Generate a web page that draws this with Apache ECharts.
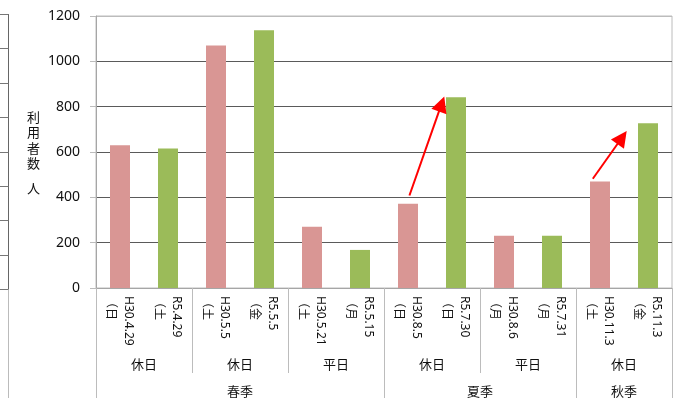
<!DOCTYPE html>
<html>
<head>
<meta charset="utf-8">
<script src="https://cdn.jsdelivr.net/npm/echarts@6/dist/echarts.min.js"></script>
<style>
  html, body { margin: 0; padding: 0; background: #fff; }
  #chart { width: 675px; height: 398px; }
</style>
</head>
<body>
<div id="chart"></div>
<script>
// Survey dates (H30 = 2018, R5 = 2023) and the weekday shown under each
const dates = ['H30.4.29', 'R5.4.29', 'H30.5.5', 'R5.5.5', 'H30.5.21', 'R5.5.15',
               'H30.8.5', 'R5.7.30', 'H30.8.6', 'R5.7.31', 'H30.11.3', 'R5.11.3'];
const weekdays = ['（日', '（土', '（土', '（金', '（土', '（月',
                  '（日', '（日', '（月', '（月', '（土', '（金'];

// Users per survey day: H30 counts and R5 counts, one per day-type group
const h30Users = [630, 1070, 270, 372, 230, 470];
const r5Users  = [615, 1137, 168, 842, 230, 727];

// Day-type groups (two dates each) and seasons (with how many dates they span)
const dayTypes = ['休日', '休日', '平日', '休日', '平日', '休日'];
const seasons = ['春季', '夏季', '秋季'];
const seasonSpans = [6, 4, 2];

// Y axis ticks
const yTicks = [0, 200, 400, 600, 800, 1000, 1200];

// Increase arrows: [start, end] in (date slot, users) space
const arrows = [
  [[6.53, 408], [7.2, 812]],
  [[10.35, 482], [10.96, 664]]
];

const FONT = "'Noto Sans', 'Noto Sans CJK JP', sans-serif";
const CJK_FONT = "'Noto Sans CJK JP', sans-serif";
const PINK = '#d99694';
const GREEN = '#9bbb59';

// Interleave the two years into one bar per date slot
const h30Data = [], r5Data = [];
h30Users.forEach((v, i) => {
  h30Data.push(v, null);
  r5Data.push(null, r5Users[i]);
});

// Boundaries and centres on a 0..12 slot scale
const groupBounds = [];
for (let i = 0; i <= dayTypes.length; i++) groupBounds.push(i * 2);
const groupCenters = dayTypes.map((_, i) => i * 2 + 1);
const seasonBounds = [0];
const seasonCenters = [];
seasonSpans.forEach(s => {
  const start = seasonBounds[seasonBounds.length - 1];
  seasonCenters.push(start + s / 2);
  seasonBounds.push(start + s);
});

const chart = echarts.init(document.getElementById('chart'));

chart.setOption({
  animation: false,
  textStyle: { fontFamily: FONT },
  grid: {
    left: 96, right: 3, top: 16, bottom: 110,
    show: true, borderColor: '#bcbcbc', borderWidth: 1
  },
  xAxis: [
    {
      type: 'category',
      position: 'bottom',
      data: dates,
      axisLine: { lineStyle: { color: '#a6a6a6' } },
      axisTick: { length: 60, interval: 0, lineStyle: { color: '#bcbcbc' } },
      axisLabel: {
        interval: 0, rotate: -90, margin: 8,
        formatter: (v, i) => '{d|' + v + '}\n{w|' + weekdays[i] + '}',
        rich: {
          d: { color: '#111', fontSize: 12, lineHeight: 17, fontFamily: FONT },
          w: { color: '#111', fontSize: 12, lineHeight: 17, fontFamily: CJK_FONT }
        }
      }
    },
    {
      type: 'value',
      position: 'bottom',
      min: 0, max: 12,
      splitLine: { show: false },
      axisLine: { show: false },
      axisTick: {
        customValues: groupBounds, length: 85,
        lineStyle: { color: '#bcbcbc' }
      },
      axisLabel: {
        customValues: groupCenters, margin: 70,
        color: '#111', fontSize: 13, fontFamily: CJK_FONT,
        formatter: v => dayTypes[Math.round((v - 1) / 2)] || ''
      }
    },
    {
      type: 'value',
      position: 'bottom',
      min: 0, max: 12,
      splitLine: { show: false },
      axisLine: { show: false },
      axisTick: {
        customValues: seasonBounds, length: 110,
        lineStyle: { color: '#bcbcbc' }
      },
      axisLabel: {
        customValues: seasonCenters, margin: 97,
        color: '#111', fontSize: 13, fontFamily: CJK_FONT,
        formatter: v => {
          const i = seasonCenters.indexOf(v);
          return i >= 0 ? seasons[i] : '';
        }
      }
    }
  ],
  yAxis: {
    type: 'value',
    min: yTicks[0], max: yTicks[yTicks.length - 1], interval: 200,
    name: '{a|利}\n{a|用}\n{a|者}\n{a|数}\n{b|人}',
    nameLocation: 'middle',
    nameRotate: 0,
    nameGap: 56,
    nameTextStyle: {
      rich: {
        a: { fontSize: 13, lineHeight: 15.5, color: '#111', fontFamily: CJK_FONT },
        b: { fontSize: 13, lineHeight: 24, color: '#111', fontFamily: CJK_FONT, verticalAlign: 'bottom' }
      }
    },
    axisLine: { show: true, onZero: false, lineStyle: { color: '#a6a6a6' } },
    axisTick: { show: true, length: 6, lineStyle: { color: '#bcbcbc' } },
    axisLabel: {
      margin: 16, color: '#111', fontSize: 14, fontFamily: FONT,
      formatter: v => String(v)
    },
    splitLine: {
      lineStyle: {
        color: ['#a6a6a6', '#5a5a5a', '#5a5a5a', '#5a5a5a', '#5a5a5a', '#5a5a5a', '#bcbcbc']
      }
    }
  },
  series: [
    {
      name: 'H30',
      type: 'bar',
      stack: 'users',
      data: h30Data,
      barWidth: 20,
      itemStyle: { color: PINK }
    },
    {
      name: 'R5',
      type: 'bar',
      stack: 'users',
      data: r5Data,
      barWidth: 20,
      itemStyle: { color: GREEN }
    },
    {
      name: 'increase',
      type: 'lines',
      coordinateSystem: 'cartesian2d',
      xAxisIndex: 2,
      yAxisIndex: 0,
      z: 10,
      symbol: ['none', 'triangle'],
      symbolSize: 16,
      lineStyle: { color: '#ff0000', width: 2, opacity: 1, curveness: 0 },
      data: arrows.map(a => ({ coords: a }))
    }
  ],
  graphic: [
    // edge of the neighbouring table
    { type: 'line', shape: { x1: 8.5, y1: 14, x2: 8.5, y2: 289 }, style: { stroke: '#666', lineWidth: 1 } },
    { type: 'line', shape: { x1: 8.5, y1: 289, x2: 8.5, y2: 398 }, style: { stroke: '#bbb', lineWidth: 1 } }
  ].concat([14, 48, 83, 117, 152, 186, 220, 255, 289].map(y => ({
    type: 'line',
    shape: { x1: 0, y1: y + 0.5, x2: 8.5, y2: y + 0.5 },
    style: { stroke: '#777', lineWidth: 1 }
  })))
});
</script>
</body>
</html>
